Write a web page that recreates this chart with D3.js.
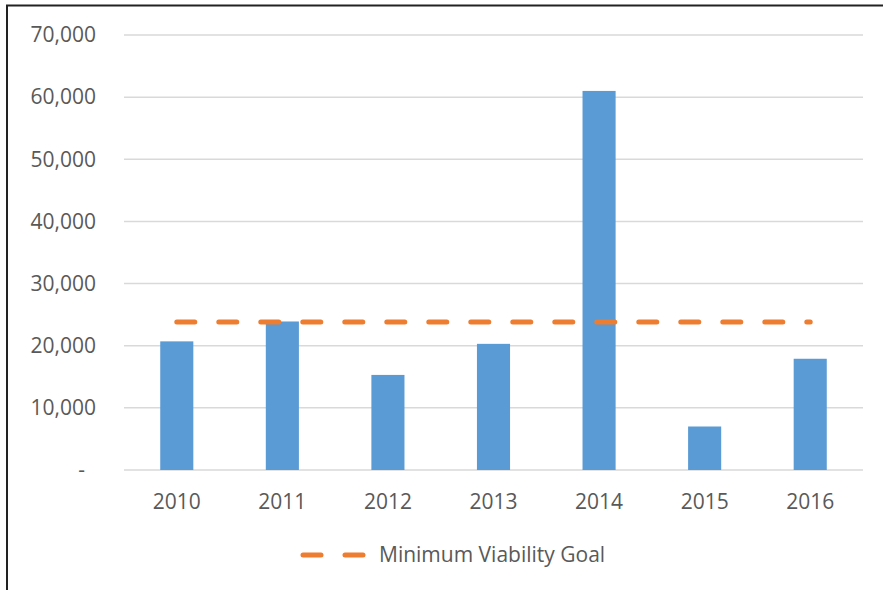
<!DOCTYPE html>
<html>
<head>
<meta charset="utf-8">
<script src="https://cdn.jsdelivr.net/npm/d3@7"></script>
<style>
  body { margin: 0; background: #fff; }
  text { font-family: "Open Sans", sans-serif; fill: #595959; }
</style>
</head>
<body>
<script>
var years = ["2010", "2011", "2012", "2013", "2014", "2015", "2016"];
var counts = [20700, 23900, 15300, 20300, 61000, 7000, 17900];
var goal = [23800, 23800, 23800, 23800, 23800, 23800, 23800];
var yTicks = [0, 10000, 20000, 30000, 40000, 50000, 60000, 70000];
var legendLabel = "Minimum Viability Goal";

var width = 883, height = 590;
var svg = d3.select("body").append("svg")
    .attr("width", width)
    .attr("height", height);

// frame (only left and top edges are visible)
svg.append("path")
    .attr("d", "M7,590 V5.5 H883")
    .attr("fill", "none")
    .attr("stroke", "#222")
    .attr("stroke-width", 2);

var x = d3.scaleBand().domain(years).range([124, 863]).paddingInner(0).paddingOuter(0);
var y = d3.scaleLinear().domain([0, 70000]).range([470, 35]);
var barW = x.bandwidth() / 3.19;

// gridlines
svg.selectAll("line.grid")
    .data(yTicks)
    .enter()
    .append("line")
    .attr("class", "grid")
    .attr("x1", 124)
    .attr("x2", 863)
    .attr("y1", function(d) { return y(d); })
    .attr("y2", function(d) { return y(d); })
    .attr("stroke", "#d9d9d9")
    .attr("stroke-width", 1.5);

// y axis labels
var fmt = d3.format(",");
svg.selectAll("text.ylab")
    .data(yTicks)
    .enter()
    .append("text")
    .attr("class", "ylab")
    .attr("x", function(d) { return d === 0 ? 85 : 96; })
    .attr("y", function(d) { return y(d); })
    .attr("dy", "0.35em")
    .attr("text-anchor", "end")
    .style("font-size", "21px")
    .text(function(d) { return d === 0 ? "-" : fmt(d); });

// bars
svg.selectAll("rect.bar")
    .data(counts)
    .enter()
    .append("rect")
    .attr("class", "bar")
    .attr("x", function(d, i) { return x(years[i]) + x.bandwidth() / 2 - barW / 2; })
    .attr("y", function(d) { return y(d); })
    .attr("width", barW)
    .attr("height", function(d) { return y(0) - y(d); })
    .attr("fill", "#5b9bd5");

// x labels
svg.selectAll("text.xlab")
    .data(years)
    .enter()
    .append("text")
    .attr("class", "xlab")
    .attr("x", function(d) { return x(d) + x.bandwidth() / 2; })
    .attr("y", 509)
    .attr("text-anchor", "middle")
    .style("font-size", "21px")
    .text(function(d) { return d; });

// goal line
var line = d3.line()
    .x(function(d, i) { return x(years[i]) + x.bandwidth() / 2; })
    .y(function(d) { return y(d); });

svg.append("path")
    .datum(goal)
    .attr("d", line)
    .attr("fill", "none")
    .attr("stroke", "#ed7d31")
    .attr("stroke-width", 5)
    .attr("stroke-linecap", "round")
    .attr("stroke-dasharray", "18,24");

// legend
svg.append("line")
    .attr("x1", 303)
    .attr("x2", 364)
    .attr("y1", 555)
    .attr("y2", 555)
    .attr("stroke", "#ed7d31")
    .attr("stroke-width", 5)
    .attr("stroke-linecap", "round")
    .attr("stroke-dasharray", "18,24");

svg.append("text")
    .attr("x", 379)
    .attr("y", 562)
    .style("font-size", "21px")
    .text(legendLabel);
</script>
</body>
</html>
